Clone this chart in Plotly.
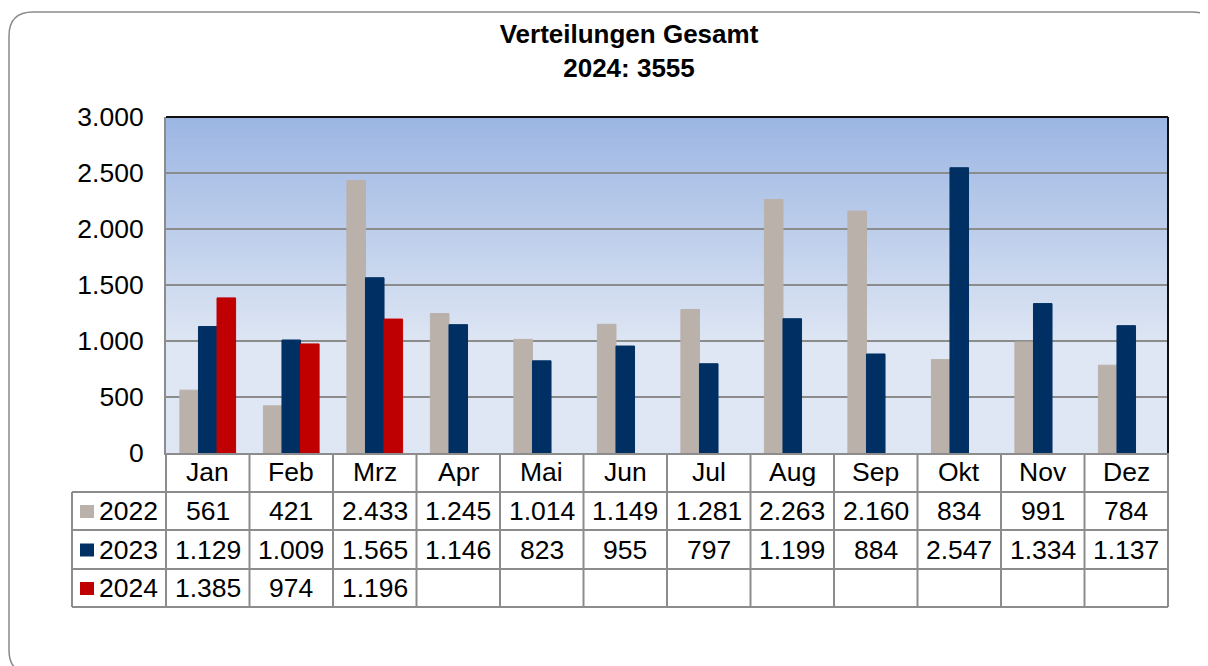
import plotly.graph_objects as go

months = ["Jan", "Feb", "Mrz", "Apr", "Mai", "Jun", "Jul", "Aug", "Sep", "Okt", "Nov", "Dez"]
years = ["2022", "2023", "2024"]
v2022 = [561, 421, 2433, 1245, 1014, 1149, 1281, 2263, 2160, 834, 991, 784]
v2023 = [1129, 1009, 1565, 1146, 823, 955, 797, 1199, 884, 2547, 1334, 1137]
v2024 = [1385, 974, 1196, None, None, None, None, None, None, None, None, None]
colors = ["#BAB1AB", "#003063", "#C00000"]

# page body has an 8px margin, so the figure is a bit smaller and shifted
OFF = 8
W, H = 1208 - OFF, 666 - OFF
# plot area in page pixels
L, R, T, B = 166, 1168, 117, 453
FONT = "Liberation Sans, Arial, sans-serif"


def px(x):
    return (x - L) / (R - L)


def py(y):
    return (B - y) / (B - T)


def de(v):
    return "" if v is None else f"{v:,}".replace(",", ".")


fig = go.Figure()
for name, vals, col in zip(years, [v2022, v2023, v2024], colors):
    fig.add_trace(go.Bar(
        x=months, y=vals, name=name,
        marker=dict(color=col, line=dict(color=col, width=1)),
        showlegend=False
    ))

shapes = []
# background gradient (Excel style, darker blue at the top)
top_c = (156, 182, 227)
bot_c = (221, 229, 243)
shapes.append(dict(type="rect", xref="paper", yref="y", x0=0, x1=1, y0=0, y1=1100,
                   fillcolor="rgb(223,230,244)", line_width=0, layer="below"))
steps = 100
for i in range(steps):
    y0 = 3000 - i * 2000 / steps
    y1 = y0 - 2000 / steps - 20
    f = i / (steps - 1)
    c = tuple(round(a + (b - a) * f) for a, b in zip(top_c, bot_c))
    shapes.append(dict(type="rect", xref="paper", yref="y", x0=0, x1=1, y0=y1, y1=y0,
                       fillcolor="rgb(%d,%d,%d)" % c, line_width=0, layer="below"))

# plot frame: black top and right
shapes.append(dict(type="line", xref="paper", yref="paper", x0=0, x1=1, y0=1, y1=1,
                   line=dict(color="#111111", width=2)))
shapes.append(dict(type="line", xref="paper", yref="paper", x0=1, x1=1, y0=0, y1=1,
                   line=dict(color="#111111", width=2)))

grey = "#8C8C8C"
# data table grid
row_y = [B, 492, 530, 569, 607]
for y in row_y[1:]:
    shapes.append(dict(type="line", xref="paper", yref="paper", x0=px(72), x1=1, y0=py(y), y1=py(y),
                       line=dict(color=grey, width=2)))
shapes.append(dict(type="line", xref="paper", yref="paper", x0=px(72), x1=px(72), y0=py(492), y1=py(607),
                   line=dict(color=grey, width=2)))
for i in range(len(months) + 1):
    shapes.append(dict(type="line", xref="paper", yref="paper", x0=i / 12, x1=i / 12, y0=py(B), y1=py(607),
                       line=dict(color=grey, width=2)))

# legend keys in the table
for j, col in enumerate(colors):
    yc = (row_y[j + 1] + row_y[j + 2]) / 2
    shapes.append(dict(type="rect", xref="paper", yref="paper", x0=px(80), x1=px(94),
                       y0=py(yc + 7), y1=py(yc - 6), fillcolor=col, line_width=0))

# outer rounded frame
x0, x1, y0, y1, r = 9, 1216, 12, 674, 24
path = "M %f,%f L %f,%f Q %f,%f %f,%f L %f,%f Q %f,%f %f,%f L %f,%f Q %f,%f %f,%f L %f,%f Q %f,%f %f,%f Z" % (
    px(x0 + r), py(y0), px(x1 - r), py(y0), px(x1), py(y0), px(x1), py(y0 + r),
    px(x1), py(y1 - r), px(x1), py(y1), px(x1 - r), py(y1),
    px(x0 + r), py(y1), px(x0), py(y1), px(x0), py(y1 - r),
    px(x0), py(y0 + r), px(x0), py(y0), px(x0 + r), py(y0))
shapes.append(dict(type="path", xref="paper", yref="paper", path=path,
                   line=dict(color="#8A8A8A", width=1.5)))

annotations = []
tfont = dict(family=FONT, size=26.5, color="#000000")
for m in months:
    annotations.append(dict(x=m, xref="x", y=py((row_y[0] + row_y[1]) / 2), yref="paper",
                            text=m, showarrow=False, font=tfont, xanchor="center", yanchor="middle"))
for j, (name, vals) in enumerate(zip(years, [v2022, v2023, v2024])):
    yc = py((row_y[j + 1] + row_y[j + 2]) / 2)
    annotations.append(dict(x=px(97), xref="paper", y=yc, yref="paper", text=name, showarrow=False,
                            font=tfont, xanchor="left", yanchor="middle"))
    for m, v in zip(months, vals):
        annotations.append(dict(x=m, xref="x", y=yc, yref="paper", text=de(v), showarrow=False,
                                font=tfont, xanchor="center", yanchor="middle"))

total_2024 = sum(v for v in v2024 if v is not None)

fig.update_layout(
    width=W, height=H,
    margin=dict(l=L - OFF, r=1208 - R, t=T - OFF, b=666 - B),
    paper_bgcolor="white",
    plot_bgcolor="rgb(223,230,244)",
    barmode="group", bargap=0.333, bargroupgap=0,
    separators=",.",
    title=dict(text="<b>Verteilungen Gesamt<br>2024: %d</b>" % total_2024,
               x=(629 - OFF) / W, xanchor="center", y=1 - (43 - OFF) / H, yanchor="middle",
               font=dict(family=FONT, size=26, color="#000000")),
    xaxis=dict(showticklabels=False, showgrid=False, showline=True, linecolor=grey, linewidth=2,
               ticks=""),
    yaxis=dict(range=[0, 3000], dtick=500, tickformat=",d", showgrid=True, gridcolor=grey, gridwidth=2,
               showline=True, linecolor=grey, linewidth=2, zeroline=False,
               ticks="outside", ticklen=15, tickcolor="rgba(0,0,0,0)",
               tickfont=dict(family=FONT, size=26.5, color="#000000")),
    shapes=shapes,
    annotations=annotations,
)

fig.write_html("out.html")
